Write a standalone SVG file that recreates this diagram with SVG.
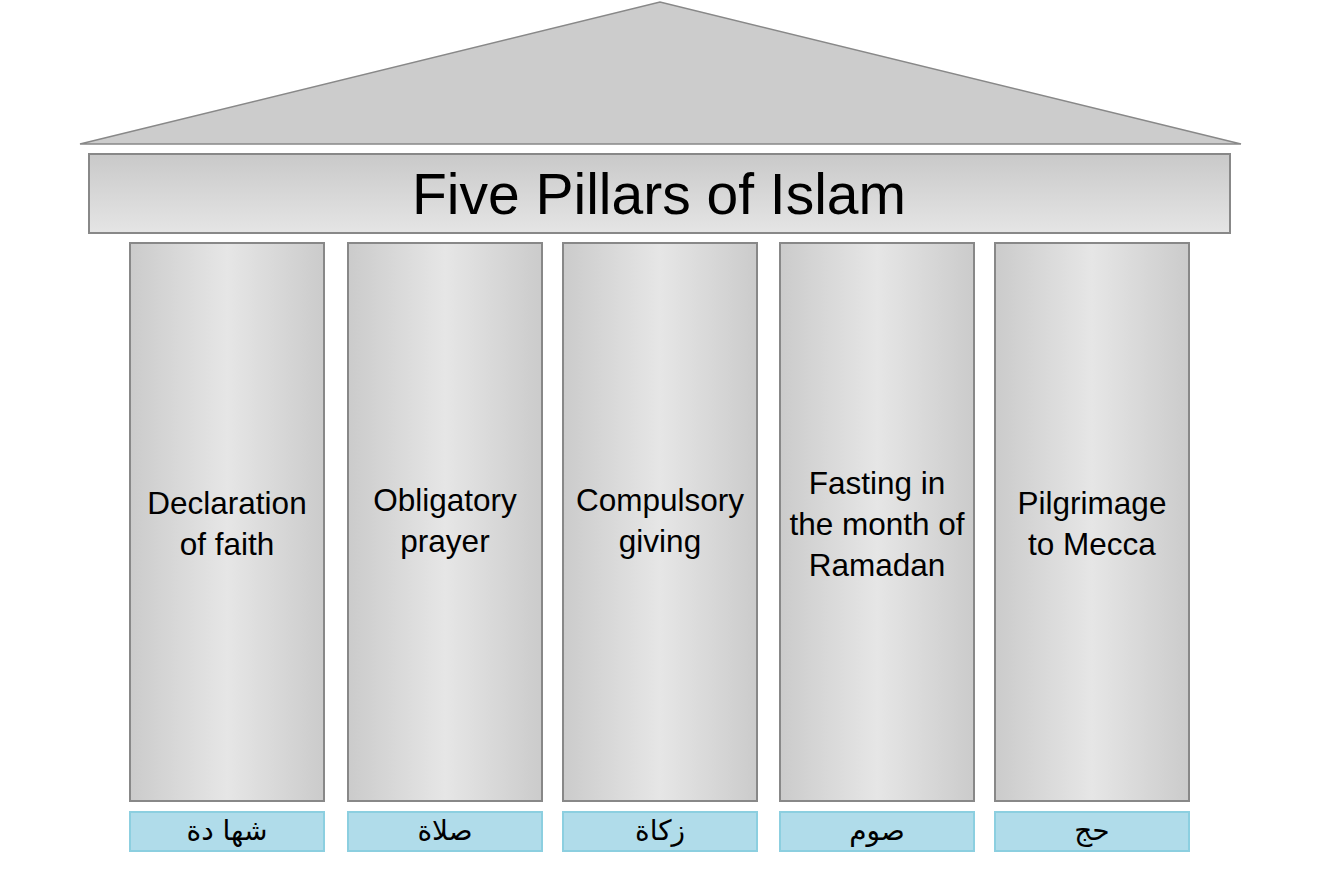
<svg xmlns="http://www.w3.org/2000/svg" width="1327" height="875" viewBox="0 0 1327 875">
<defs>
<linearGradient id="gv" x1="0" y1="0" x2="0" y2="1"><stop offset="0" stop-color="#c9c9c9"/><stop offset="1" stop-color="#e5e5e5"/></linearGradient>
<linearGradient id="gh" x1="0" y1="0" x2="1" y2="0"><stop offset="0" stop-color="#cbcbcb"/><stop offset="0.5" stop-color="#e6e6e6"/><stop offset="1" stop-color="#cbcbcb"/></linearGradient>
<style>
.pil{fill:url(#gh);stroke:#888;stroke-width:2}
.lab{fill:#b0dcea;stroke:#8ccfe0;stroke-width:2}
.t{font-family:"Liberation Sans",Arial,sans-serif;font-size:31.5px;fill:#000;text-anchor:middle}
.a{font-family:"DejaVu Sans","Noto Sans",sans-serif;font-size:28px;fill:#000;text-anchor:middle}
</style>
</defs>
<g id="roof"><polygon points="80,144 660,2 1241,144" fill="#cccccc" stroke="#888" stroke-width="1.5"/></g>
<g id="title"><rect x="89" y="154" width="1141" height="79" fill="url(#gv)" stroke="#888" stroke-width="2"/><text x="659" y="214" font-family="Liberation Sans,Arial,sans-serif" font-size="57" text-anchor="middle">Five Pillars of Islam</text></g>
<g id="p1"><rect class="pil" x="130" y="243" width="194" height="558"/><text class="t" x="227" y="514">Declaration</text><text class="t" x="227" y="555">of faith</text></g>
<g id="p2"><rect class="pil" x="348" y="243" width="194" height="558"/><text class="t" x="445" y="511">Obligatory</text><text class="t" x="445" y="552">prayer</text></g>
<g id="p3"><rect class="pil" x="563" y="243" width="194" height="558"/><text class="t" x="660" y="511">Compulsory</text><text class="t" x="660" y="552">giving</text></g>
<g id="p4"><rect class="pil" x="780" y="243" width="194" height="558"/><text class="t" x="877" y="494">Fasting in</text><text class="t" x="877" y="535">the month of</text><text class="t" x="877" y="576">Ramadan</text></g>
<g id="p5"><rect class="pil" x="995" y="243" width="194" height="558"/><text class="t" x="1092" y="514">Pilgrimage</text><text class="t" x="1092" y="555">to Mecca</text></g>
<g id="l1"><rect class="lab" x="130" y="812" width="194" height="39"/><text class="a" x="227" y="840">شها دة</text></g>
<g id="l2"><rect class="lab" x="348" y="812" width="194" height="39"/><text class="a" x="445" y="840">صلاة</text></g>
<g id="l3"><rect class="lab" x="563" y="812" width="194" height="39"/><text class="a" x="660" y="840">زكاة</text></g>
<g id="l4"><rect class="lab" x="780" y="812" width="194" height="39"/><text class="a" x="877" y="840">صوم</text></g>
<g id="l5"><rect class="lab" x="995" y="812" width="194" height="39"/><text class="a" x="1092" y="840">حج</text></g>
<g id="connectors"/>
</svg>
